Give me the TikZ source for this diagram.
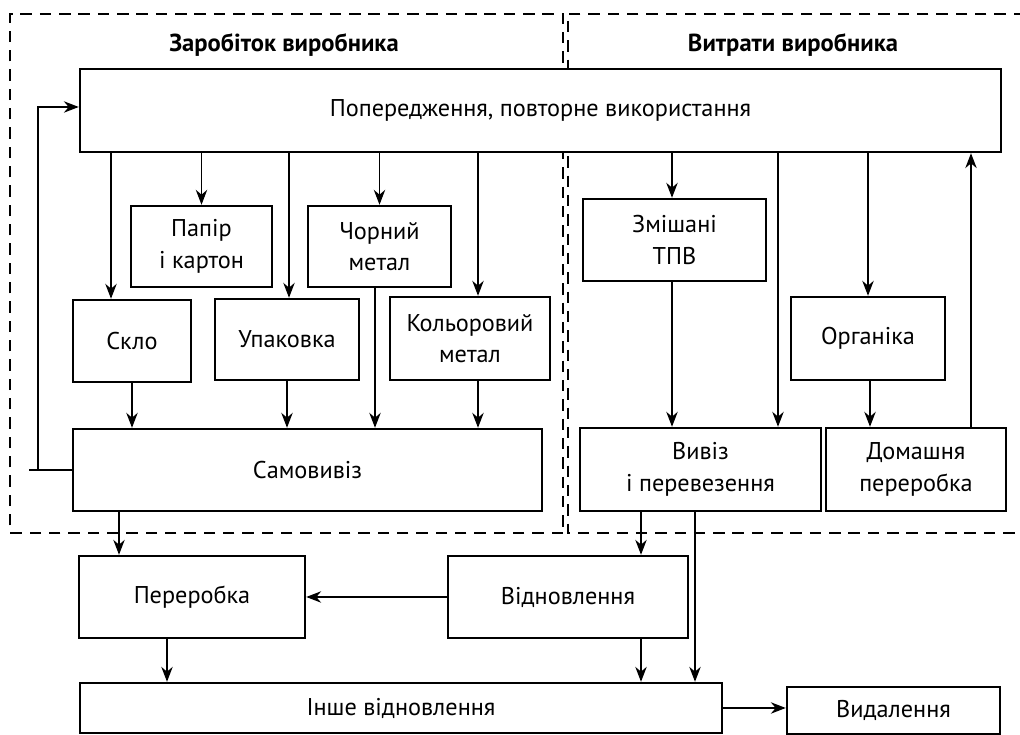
\documentclass[tikz,border=0pt]{standalone}
\usepackage{fontspec}
\setmainfont{PT Sans}
\usetikzlibrary{arrows.meta,positioning}

\begin{document}
\begin{tikzpicture}[>={Stealth[length=8.5pt,width=6.5pt]},font=\fontsize{13.8}{18}\selectfont,
  box/.style={draw,line width=1.4pt,fill=white,align=center,inner sep=2pt},
  zone/.style={draw,line width=1.6pt,dash pattern=on 6.5pt off 4.5pt},
  link/.style={line width=0.65pt},
  title/.style={font=\fontsize{14}{16}\selectfont\bfseries}]
\useasboundingbox (0,0) rectangle (20.4,14.7);
% dashed zones: producer earns / producer pays
\draw[zone] (11.26,4.04) -- (0.2,4.04) -- (0.2,14.42) -- (11.26,14.42) -- cycle;
\draw[zone] (20.5,14.42) -- (11.36,14.42) -- (11.36,4.04) -- (20.5,4.04);
\node[title] (t1) at (5.68,13.8) {Заробіток виробника};
\node[title] (t2) at (15.86,13.8) {Витрати виробника};
% boxes
\node[box,minimum width=18.42cm,minimum height=1.66cm] (prev) at (10.81,12.49) {Попередження, повторне використання};
\node[box,minimum width=2.82cm,minimum height=1.62cm] (papir) at (4.03,9.77) {Папір\\і картон};
\node[box,minimum width=2.86cm,minimum height=1.62cm] (chorn) at (7.59,9.77) {Чорний\\метал};
\node[box,minimum width=2.36cm,minimum height=1.64cm] (sklo) at (2.64,7.88) {Скло};
\node[box,minimum width=2.88cm,minimum height=1.62cm] (upak) at (5.74,7.91) {Упаковка};
\node[box,minimum width=3.2cm,minimum height=1.66cm] (kolor) at (9.4,7.93) {Кольоровий\\метал};
\node[box,minimum width=3.66cm,minimum height=1.64cm] (zmish) at (13.49,9.9) {Змішані\\ТПВ};
\node[box,minimum width=3.08cm,minimum height=1.66cm] (orh) at (17.36,7.93) {Органіка};
\node[box,minimum width=9.38cm,minimum height=1.64cm] (samo) at (6.15,5.3) {Самовивіз};
\node[box,minimum width=4.82cm,minimum height=1.66cm] (vyviz) at (14.01,5.31) {Вивіз\\і перевезення};
\node[box,minimum width=3.6cm,minimum height=1.66cm] (domash) at (18.32,5.31) {Домашня\\переробка};
\node[box,minimum width=4.52cm,minimum height=1.64cm] (perer) at (3.84,2.76) {Переробка};
\node[box,minimum width=4.8cm,minimum height=1.64cm] (vidn) at (11.36,2.76) {Відновлення};
\node[box,minimum width=12.84cm,minimum height=1.0cm] (inshe) at (8.02,0.54) {Інше відновлення};
\node[box,minimum width=4.26cm,minimum height=0.94cm] (vydal) at (17.87,0.49) {Видалення};
% from the top box
\draw[link,->] (prev.south -| 2.22,0) -- (2.22,0 |- sklo.north);
\draw[link,->] (prev.south -| papir) -- (papir.north);
\draw[link,->] (prev.south -| 5.78,0) -- (5.78,0 |- upak.north);
\draw[link,->] (prev.south -| chorn) -- (chorn.north);
\draw[link,->] (prev.south -| 9.56,0) -- (9.56,0 |- kolor.north);
\draw[link,->] (prev.south -| 13.44,0) -- (13.44,0 |- zmish.north);
\draw[link,->] (prev.south -| 15.56,0) -- (15.56,0 |- vyviz.north);
\draw[link,->] (prev.south -| orh) -- (orh.north);
\draw[link,->] (domash.north -| 19.42,0) -- (19.42,0 |- prev.south);
% into collection
\draw[link,->] (sklo.south) -- (sklo.south |- samo.north);
\draw[link,->] (upak.south) -- (upak.south |- samo.north);
\draw[link,->] (chorn.south -| 7.5,0) -- (7.5,0 |- samo.north);
\draw[link,->] (kolor.south -| 9.56,0) -- (9.56,0 |- samo.north);
\draw[link,->] (zmish.south -| 13.44,0) -- (13.44,0 |- vyviz.north);
\draw[link,->] (orh.south -| 17.4,0) -- (17.4,0 |- domash.north);
% feedback loop
\coordinate (fb) at (0.76,12.56);
\draw[link] (samo.west) -- ++(-0.86,0);
\draw[link,->] (samo.west -| fb) -- (fb) -- (fb -| prev.west);
% lower part
\draw[link,->] (samo.south -| 2.38,0) -- (2.38,0 |- perer.north);
\draw[link,->] (vyviz.south -| 12.82,0) -- (12.82,0 |- vidn.north);
\draw[link,->] (vyviz.south -| 13.9,0) -- (13.9,0 |- inshe.north);
\draw[link,->] (vidn.west) -- (perer.east);
\draw[link,->] (perer.south -| 3.34,0) -- (3.34,0 |- inshe.north);
\draw[link,->] (vidn.south -| 12.82,0) -- (12.82,0 |- inshe.north);
\draw[link,->] (inshe.east) -- (inshe.east -| vydal.west);
\end{tikzpicture}
\end{document}
